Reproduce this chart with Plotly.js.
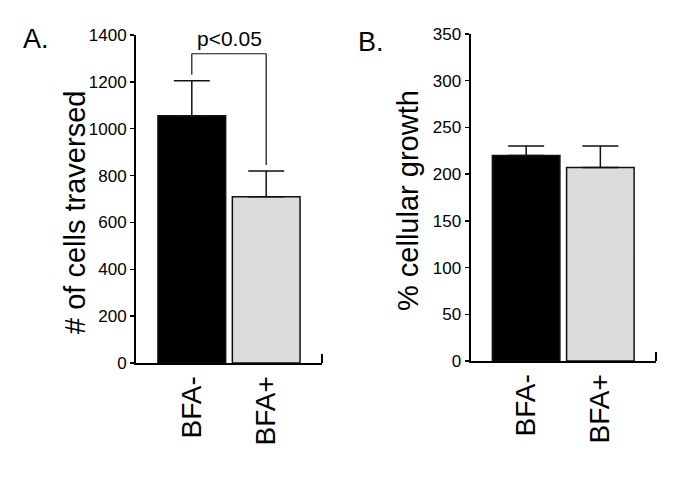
<!DOCTYPE html>
<html>
<head>
<meta charset="utf-8">
<script src="https://cdn.plot.ly/plotly-3.0.1.min.js"></script>
<style>html,body{margin:0;padding:0;background:#fff;}#chart{width:685px;height:486px;}</style>
</head>
<body>
<div id="chart"></div>
<script>
// Data
var categories = ['BFA-', 'BFA+'];
var cellsTraversed = [1055, 710];
var cellsTraversedErr = [150, 110];
var cellularGrowth = [220, 207];
var cellularGrowthErr = [10, 23];
var barColors = ['#000000', '#dcdcdc'];
var ticksA = [0, 200, 400, 600, 800, 1000, 1200, 1400];
var ticksB = [0, 50, 100, 150, 200, 250, 300, 350];
var sigLabel = 'p<0.05';
var sigBracket = [1320, 1230, 845]; // bracket top, left end, right end (panel A units)

var FONT = 'Liberation Sans, Arial, sans-serif';

function barTrace(vals, errs, xa, ya) {
  return {
    type: 'bar',
    x: [0, 1],
    y: vals,
    width: 0.91,
    xaxis: xa, yaxis: ya,
    marker: {color: barColors, line: {color: '#111', width: 1.5}},
    error_y: {type: 'data', symmetric: false, array: errs, arrayminus: [0, 0],
              color: '#111', thickness: 1.5, width: 18},
    hoverinfo: 'skip'
  };
}

var traces = [
  barTrace(cellsTraversed, cellsTraversedErr, 'x', 'y'),
  barTrace(cellularGrowth, cellularGrowthErr, 'x2', 'y2')
];

function xAxis(domain, anchor) {
  return {
    domain: domain, anchor: anchor, range: [-0.75, 1.75],
    tickmode: 'array', tickvals: [0, 1], ticktext: categories,
    tickangle: -90, ticks: '', showline: true, linecolor: '#000', linewidth: 2,
    showgrid: false, zeroline: false, fixedrange: true,
    tickfont: {family: FONT, size: 28, color: '#000'}
  };
}
function yAxis(domain, anchor, range, ticks) {
  return {
    domain: domain, anchor: anchor, range: range,
    tickmode: 'array', tickvals: ticks,
    ticks: 'outside', ticklen: 4, tickwidth: 1.5, tickcolor: '#000',
    showline: true, linecolor: '#000', linewidth: 2,
    showgrid: false, zeroline: false, fixedrange: true,
    tickfont: {family: FONT, size: 17, color: '#000'}
  };
}

var layout = {
  width: 685, height: 486,
  margin: {l: 0, r: 0, t: 0, b: 0},
  paper_bgcolor: '#fff', plot_bgcolor: '#fff',
  showlegend: false,
  bargap: 0,
  xaxis: xAxis([136/685, 322/685], 'y'),
  yaxis: yAxis([123/486, 451/486], 'x', [0, 1400], ticksA),
  xaxis2: xAxis([470.5/685, 656/685], 'y2'),
  yaxis2: yAxis([125/486, 452/486], 'x2', [0, 350], ticksB),
  annotations: [
    {text: 'A.', xref: 'paper', yref: 'paper', x: 21/685, y: 1 - 39/486, xanchor: 'left', yanchor: 'middle',
     showarrow: false, font: {family: FONT, size: 27, color: '#000'}},
    {text: 'B.', xref: 'paper', yref: 'paper', x: 356/685, y: 1 - 42/486, xanchor: 'left', yanchor: 'middle',
     showarrow: false, font: {family: FONT, size: 27, color: '#000'}},
    {text: '# of cells traversed', xref: 'paper', yref: 'paper', x: 75/685, y: 1 - 213/486, textangle: -90,
     xanchor: 'center', yanchor: 'middle', showarrow: false, font: {family: FONT, size: 29, color: '#000'}},
    {text: '% cellular growth', xref: 'paper', yref: 'paper', x: 408/685, y: 1 - 201/486, textangle: -90,
     xanchor: 'center', yanchor: 'middle', showarrow: false, font: {family: FONT, size: 29, color: '#000'}},
    {text: sigLabel, xref: 'x', yref: 'y', x: 0.5, y: sigBracket[0], yanchor: 'bottom', yshift: 2,
     showarrow: false, font: {family: FONT, size: 21, color: '#000'}}
  ],
  shapes: [
    {type: 'line', xref: 'x', yref: 'y', x0: 0, x1: 1, y0: sigBracket[0], y1: sigBracket[0], line: {color: '#111', width: 1.2}},
    {type: 'line', xref: 'x', yref: 'y', x0: 0, x1: 0, y0: sigBracket[0], y1: sigBracket[1], line: {color: '#111', width: 1.2}},
    {type: 'line', xref: 'x', yref: 'y', x0: 1, x1: 1, y0: sigBracket[0], y1: sigBracket[2], line: {color: '#111', width: 1.2}},
    {type: 'line', xref: 'x domain', yref: 'y domain', x0: 1, x1: 1, y0: 0, y1: 9/328, line: {color: '#000', width: 2}},
    {type: 'line', xref: 'x2 domain', yref: 'y2 domain', x0: 1, x1: 1, y0: 0, y1: 9/327, line: {color: '#000', width: 2}}
  ]
};

Plotly.newPlot('chart', traces, layout, {staticPlot: true, displayModeBar: false});
</script>
</body>
</html>
